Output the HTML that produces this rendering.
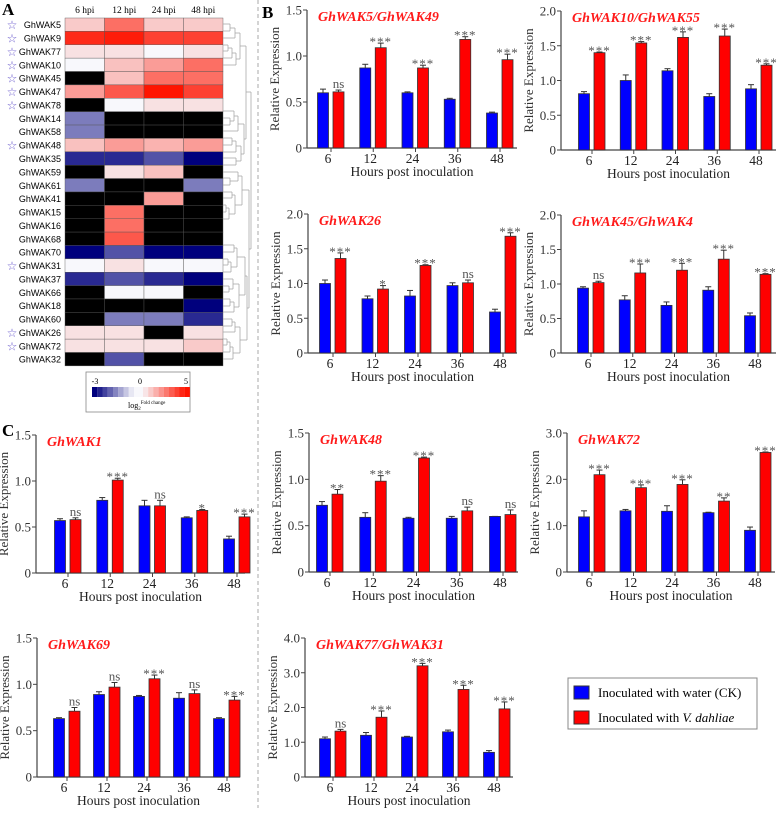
<!DOCTYPE html>
<html><head><meta charset="utf-8">
<style>
html,body{margin:0;padding:0;background:#fff;}
svg text{font-family:"Liberation Serif",serif;}
</style></head>
<body>
<svg id="fig" width="778" height="808" viewBox="0 0 778 808" xmlns="http://www.w3.org/2000/svg">
<line x1="258" y1="0" x2="258" y2="808" stroke="#aaa" stroke-dasharray="4,3" stroke-width="1"/>
<text x="2" y="15" font-size="17" font-weight="bold">A</text>
<text x="262" y="18" font-size="17" font-weight="bold">B</text>
<text x="2" y="436" font-size="17" font-weight="bold">C</text>
<g id="heat"></g>
<g id="charts"></g>
<g>
<rect x="568" y="678" width="189" height="51" fill="#fff" stroke="#888" stroke-width="1"/>
<rect x="574" y="686" width="15" height="13" fill="#0000ff" stroke="#333"/>
<text x="598" y="697" font-size="13">Inoculated with water (CK)</text>
<rect x="574" y="711" width="15" height="13" fill="#ff0000" stroke="#333"/>
<text x="598" y="722" font-size="13">Inoculated with <tspan font-style="italic">V. dahliae</tspan></text>
</g>
</svg>
<script>
const NS="http://www.w3.org/2000/svg";
function mk(tag,attrs,parent,txt){const e=document.createElementNS(NS,tag);for(const k in attrs)e.setAttribute(k,attrs[k]);if(txt!==undefined)e.textContent=txt;parent.appendChild(e);return e;}

// ---------- Heatmap data ----------
const heatGenes=["GhWAK5","GhWAK9","GhWAK77","GhWAK10","GhWAK45","GhWAK47","GhWAK78","GhWAK14","GhWAK58","GhWAK48","GhWAK35","GhWAK59","GhWAK61","GhWAK41","GhWAK15","GhWAK16","GhWAK68","GhWAK70","GhWAK31","GhWAK37","GhWAK66","GhWAK18","GhWAK60","GhWAK26","GhWAK72","GhWAK32"];
const heatStarred=[1,1,1,1,1,1,1,0,0,1,0,0,0,0,0,0,0,0,1,0,0,0,0,1,1,0];
const heatCols=["6 hpi","12 hpi","24 hpi","48 hpi"];
const heatValues=[
[1,3,1,1],[4.5,4.8,4,4],[0.5,0.5,0,0.5],[0,1.2,2,3],[null,1.2,3,3],[2,3.5,5,4],[null,0,0.5,0.5],
[-1.5,null,null,null],[-1.5,null,null,null],[1.2,2,1.5,2],[-2.5,-2.5,-2,-3],[null,0.5,1.2,null],
[-1.5,null,null,-1.5],[null,null,2,null],[null,3,null,null],[null,3,null,null],[null,3.5,null,null],
[-3,-2,-3,-3],[0,0.5,0,0],[-2.5,-2,-2.5,-3],[null,0,0,null],[null,null,null,-3],[null,-1.5,-1.5,-2.5],
[0.5,0.5,null,0.5],[0.5,0.5,0.5,1],[null,-2,null,null]];

function heatColor(v){
  if(v===null)return "#000";
  let r,g,b;
  if(v>=0){const t=Math.min(v/5,1);r=248+(255-248)*t;g=248-(248-20)*t;b=252-(252-0)*t;}
  else{const t=Math.min(-v/3,1);r=248-(248-0)*t;g=248-(248-0)*t;b=252-(252-125)*t;}
  return `rgb(${r|0},${g|0},${b|0})`;
}
(function(){
  const H=document.getElementById('heat');
  const x0=65,y0=18,cw=39.5,rh=13.38;
  heatCols.forEach((c,j)=>{const t=mk('text',{x:x0+cw*j+cw/2,y:13,'font-size':9.5,'text-anchor':'middle'},H,c);
    });
  heatGenes.forEach((g,i)=>{
    const y=y0+rh*i;
    const t=mk('text',{x:61,y:y+rh/2+3.5,'font-size':9,'text-anchor':'end',style:'font-family:"Liberation Sans",sans-serif'},H,g);
    
    if(heatStarred[i]){const s=mk('text',{x:12,y:y+rh/2+4.5,'font-size':12,fill:'#6a5acd','text-anchor':'middle',style:'font-family:"DejaVu Sans",sans-serif'},H,'☆');
      }
    heatValues[i].forEach((v,j)=>{
      const r=mk('rect',{x:x0+cw*j,y:y,width:cw,height:rh,fill:heatColor(v),stroke:'#555','stroke-width':0.4},H);
      
    });
  });
  // dendrogram (approximate)
  const segs=[[223,24,230],[223,31,230],[230,24,230],[223,38,235],[230,28,235],[235,28,235],[223,45,228],[223,51,228],[228,45,228],[223,58,232],[228,48,232],[232,48,232],[223,65,236],[232,53,236],[236,53,236],[235,33,240],[236,59,240],[240,33,240],
  [223,118,230],[223,125,230],[230,118,230],[223,111,234],[230,121,234],[234,111,234],[223,131,238],[234,116,238],[238,116,238],
  [223,205,226],[223,212,226],[226,205,226],[223,219,229],[226,208,229],[229,208,229],[223,192,232],[223,198,232],[232,192,232],[229,214,235],[232,195,235],[235,195,235],
  [223,259,228],[223,265,228],[228,259,228],[223,272,231],[228,262,231],[231,262,231],[223,245,234],[223,252,234],[234,245,234],[231,267,237],[234,248,237],[237,248,237],
  [223,339,227],[223,345,227],[227,339,227],[223,352,230],[227,342,230],[230,342,230],[223,359,233],[230,347,233],[233,347,233],[223,299,230],[223,312,230],[230,299,230],
  [240,46,246],[238,124,246],[246,46,246],[235,210,243],[237,255,243],[243,210,243],[233,353,243],[246,85,250],[243,232,250],[250,85,250]];
  // draw: entries of [x1,y,x2] horizontal, and vertical entries where x1==x2 use y..next
  const lines=[[223,24,230,24],[223,31,230,31],[230,24,230,31],[223,38,235,38],[230,28,235,28],[235,28,235,38],[223,45,228,45],[223,51,228,51],[228,45,228,51],[223,58,232,58],[228,48,232,48],[232,48,232,58],[223,65,236,65],[232,53,236,53],[236,53,236,65],[235,33,240,33],[236,59,240,59],[240,33,240,59],
  [223,111,234,111],[223,118,230,118],[223,125,230,125],[230,118,230,125],[230,121,234,121],[234,111,234,121],[223,131,238,131],[234,116,238,116],[238,116,238,131],
  [223,138,232,138],[223,145,232,145],[232,138,232,145],[223,152,236,152],[232,141,236,141],[236,141,236,152],[223,158,236,158],[223,165,236,165],[236,158,236,165],[236,146,241,146],[236,161,241,161],[241,146,241,161],[238,124,244,124],[241,154,244,154],[244,124,244,154],
  [223,192,232,192],[223,198,232,198],[232,192,232,198],[223,205,226,205],[223,212,226,212],[226,205,226,212],[223,219,229,219],[226,208,229,208],[229,208,229,219],[229,214,235,214],[232,195,235,195],[235,195,235,214],
  [223,178,230,178],[223,185,230,185],[230,178,230,185],[223,172,238,172],[230,181,238,181],[238,172,238,181],[235,205,242,205],[238,176,242,176],[242,176,242,205],
  [223,245,234,245],[223,252,234,252],[234,245,234,252],[223,259,228,259],[223,265,228,265],[228,259,228,265],[223,272,231,272],[228,262,231,262],[231,262,231,272],[231,267,237,267],[234,248,237,248],[237,248,237,267],
  [223,279,233,279],[223,286,229,286],[223,292,229,292],[229,286,229,292],[229,289,233,289],[233,279,233,289],[223,299,230,299],[223,306,230,306],[230,299,230,306],[223,312,234,312],[230,302,234,302],[234,302,234,312],[233,284,239,284],[234,307,239,307],[239,284,239,307],
  [223,319,232,319],[223,326,232,326],[232,319,232,326],[223,332,235,332],[232,322,235,322],[235,322,235,332],[223,339,227,339],[223,345,227,345],[227,339,227,345],[223,352,230,352],[227,342,230,342],[230,342,230,352],[223,359,233,359],[230,347,233,347],[233,347,233,359],[235,327,240,327],[233,353,240,353],[240,327,240,353],
  [237,257,245,257],[239,295,245,295],[245,257,245,295],[240,340,247,340],[245,276,247,276],[247,276,247,340],
  [240,46,246,46],[244,139,246,139],[246,46,246,139],[242,190,249,190],[247,308,249,308],[249,190,249,308],[246,92,251,92],[249,249,251,249],[251,92,251,249]];
  lines.forEach(l=>{const e=mk('line',{x1:l[0],y1:l[1],x2:l[2],y2:l[3],stroke:'#aaa','stroke-width':0.8},H);
    });
  // color legend
  const L=mk('g',{},H);
  mk('rect',{x:86,y:372,width:104,height:40,fill:'#fff',stroke:'#888','stroke-width':0.8},L);
  const stepsN=[-3,-2.6,-2.2,-1.8,-1.4,-1.0,-0.6,-0.2];
  stepsN.forEach((v,k)=>mk('rect',{x:92+k*5.25,y:387,width:5.3,height:10,fill:heatColor(v)},L));
  mk('rect',{x:134,y:387,width:9,height:10,fill:'#f8f8fc'},L);
  const stepsP=[0.4,1,1.6,2.2,2.8,3.4,4,4.6,5];
  stepsP.forEach((v,k)=>mk('rect',{x:143+k*5.2,y:387,width:5.3,height:10,fill:heatColor(v)},L));
  mk('text',{x:95,y:384,'font-size':8,'text-anchor':'middle'},L,'-3');
  mk('text',{x:140,y:384,'font-size':8,'text-anchor':'middle'},L,'0');
  mk('text',{x:186,y:384,'font-size':8,'text-anchor':'middle'},L,'5');
  const lt=mk('text',{x:128,y:408,'font-size':8},L,'log');
  mk('tspan',{'font-size':5,dy:2},lt,'2');
  mk('tspan',{'font-size':5,dy:-6},lt,'Fold change');
})();

// ---------- Bar chart data ----------
const hours=["6","12","24","36","48"];
const titles=["GhWAK5/GhWAK49","GhWAK10/GhWAK55","GhWAK26","GhWAK45/GhWAK4","GhWAK1","GhWAK48","GhWAK72","GhWAK69","GhWAK77/GhWAK31"];
const yMax=[1.5,2,2,2,1.5,1.5,3,1.5,4];
const yTickLabels=[["0","0.5","1.0","1.5"],["0","0.5","1.0","1.5","2.0"],["0","0.5","1.0","1.5","2.0"],["0","0.5","1.0","1.5","2.0"],["0","0.5","1.0","1.5"],["0","0.5","1.0","1.5"],["0","1.0","2.0","3.0"],["0","0.5","1.0","1.5"],["0","1.0","2.0","3.0","4.0"]];
const ckValues=[[0.60,0.87,0.60,0.53,0.38],[0.81,1.0,1.14,0.77,0.88],[1.0,0.78,0.82,0.97,0.59],[0.94,0.77,0.69,0.91,0.54],[0.57,0.79,0.73,0.60,0.37],[0.72,0.59,0.58,0.58,0.60],[1.19,1.32,1.31,1.28,0.90],[0.63,0.89,0.87,0.85,0.63],[1.10,1.20,1.15,1.30,0.71]];
const vdValues=[[0.61,1.09,0.87,1.18,0.96],[1.40,1.54,1.62,1.64,1.22],[1.36,0.92,1.26,1.01,1.68],[1.02,1.16,1.20,1.36,1.14],[0.58,1.01,0.73,0.68,0.61],[0.84,0.98,1.23,0.66,0.62],[2.10,1.82,1.89,1.53,2.58],[0.71,0.97,1.06,0.90,0.83],[1.32,1.72,3.20,2.52,1.96]];
const ckErrors=[[0.04,0.04,0.01,0.01,0.01],[0.03,0.08,0.03,0.04,0.06],[0.05,0.04,0.08,0.04,0.04],[0.02,0.06,0.05,0.05,0.04],[0.02,0.03,0.06,0.01,0.03],[0.04,0.05,0.01,0.02,0.0],[0.13,0.03,0.12,0.01,0.07],[0.01,0.03,0.01,0.06,0.01],[0.05,0.08,0.02,0.05,0.05]];
const vdErrors=[[0.02,0.05,0.03,0.03,0.06],[0.01,0.02,0.08,0.10,0.02],[0.08,0.05,0.01,0.04,0.05],[0.02,0.13,0.10,0.13,0.01],[0.02,0.02,0.06,0.01,0.03],[0.05,0.06,0.01,0.04,0.05],[0.10,0.06,0.10,0.07,0.01],[0.04,0.05,0.04,0.04,0.04],[0.05,0.18,0.07,0.12,0.20]];
const sigLabels=[["ns","***","***","***","***"],["***","***","***","***","***"],["***","*","***","ns","***"],["ns","***","***","***","***"],["ns","***","ns","*","***"],["**","***","***","ns","ns"],["***","***","***","**","***"],["ns","ns","***","ns","***"],["ns","***","***","***","***"]];

// layout: [axisX, topY, zeroY, rightX, firstTickX, tickStep]
const layouts=[[307,10,148,517,327,42.25],[561,11,150,776,588,41.75],[308,214,353,517,329,42.5],[561,215,353,776,587,41.75],[36,435,573,245,64,42.25],[309,433,572,518,326,43.25],[567,433,572,775,588,41.5],[37,638,777,240,63,40],[305,638,777,513,329,41]];

(function(){
  const C=document.getElementById('charts');
  titles.forEach((title,c)=>{
    const [ax,top,zero,right,t0,step]=layouts[c];
    const g=mk('g',{},C);
    
    
    const yS=v=>zero-(v/yMax[c])*(zero-top);
    const xS=i=>t0+i*step;
    // y axis
    const ya=mk('line',{x1:ax,y1:top,x2:ax,y2:zero,stroke:'#444','stroke-width':1.2},g);
    
    const xa=mk('line',{x1:ax,y1:zero,x2:right,y2:zero,stroke:'#444','stroke-width':1.2},g);
    
    const n=yTickLabels[c].length;
    yTickLabels[c].forEach((lab,k)=>{
      const v=yMax[c]*k/(n-1);const y=yS(v);
      mk('line',{x1:ax-4,y1:y,x2:ax,y2:y,stroke:'#444','stroke-width':1},g);
      const t=mk('text',{x:ax-5,y:y+4.5,'font-size':13,'text-anchor':'end',fill:'#333'},g,lab);
      
    });
    const yt=mk('text',{x:0,y:0,'font-size':13,'text-anchor':'middle',fill:'#333',transform:`translate(${ax-28},${(top+zero)/2}) rotate(-90)`},g,'Relative Expression');
    
    const tt=mk('text',{x:ax+11,y:top+11,'font-size':14,'font-style':'italic','font-weight':'bold',fill:'#ff1a1a'},g,title);
    
    hours.forEach((h,i)=>{
      const t=xS(i);
      mk('line',{x1:t+4,y1:zero,x2:t+4,y2:zero+4,stroke:'#444','stroke-width':1},g);
      const xl=mk('text',{x:t+1,y:zero+15,'font-size':13.5,'text-anchor':'middle',fill:'#222'},g,h);
      
      const bars=[[ckValues[c][i],ckErrors[c][i],'#0000ff',t-9.5,'bar-ck'],[vdValues[c][i],vdErrors[c][i],'#ff0000',t+6,'bar-vd']];
      bars.forEach(([v,e,col,x,nm])=>{
        const yv=yS(v);const ye=yS(v+e);const cx=x+5.5;
        const el=mk('line',{x1:cx,y1:yv,x2:cx,y2:ye,stroke:'#333','stroke-width':1},g);
        mk('line',{x1:cx-3,y1:ye,x2:cx+3,y2:ye,stroke:'#333','stroke-width':1},g);
        const r=mk('rect',{x:x,y:yv,width:11,height:zero-yv,fill:col,stroke:'#333','stroke-width':0.8},g);
        
      });
      const s=sigLabels[c][i];
      const ytop=yS(vdValues[c][i]+vdErrors[c][i]);
      const st=mk('text',{x:t+11.5,y:s==='ns'?ytop-2:ytop+3,'font-size':s==='ns'?13:13,'text-anchor':'middle',fill:'#555','letter-spacing':s==='ns'?0:1},g,s);
      
    });
    const xt=mk('text',{x:(ax+right)/2,y:zero+28,'font-size':13.5,'text-anchor':'middle',fill:'#222'},g,'Hours post inoculation');
    
  });
})();
</script>
</body></html>
